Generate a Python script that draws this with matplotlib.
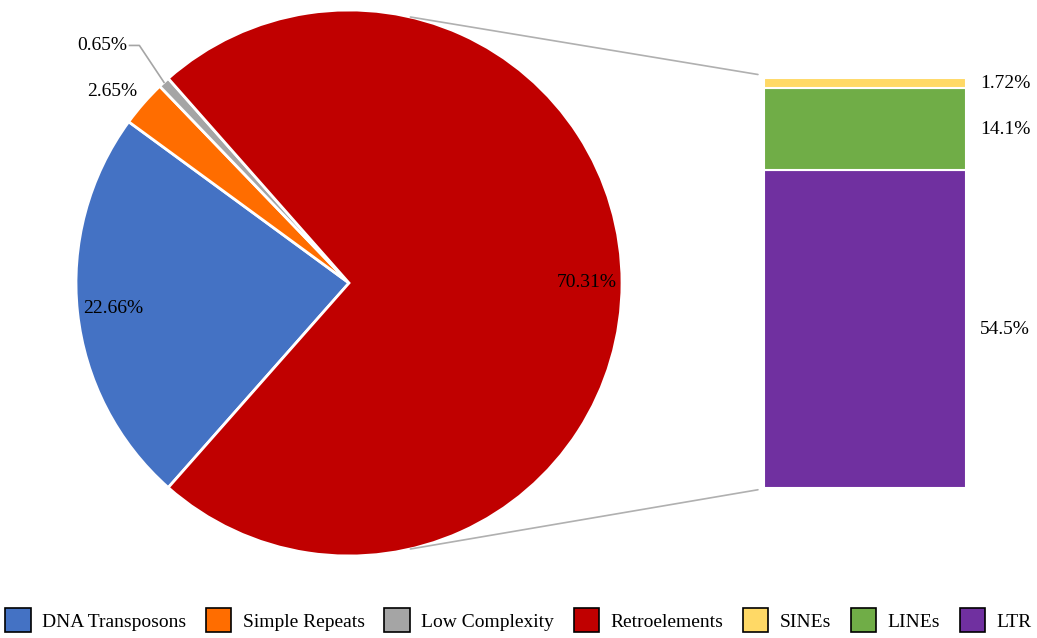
import numpy as np
import matplotlib
matplotlib.use("Agg")
import matplotlib.pyplot as plt
from matplotlib.patches import ConnectionPatch, Patch

plt.rcParams['font.family'] = ['Liberation Serif', 'DejaVu Serif']

# repeat classes shown in the pie
pie_labels = ["DNA Transposons", "Simple Repeats", "Low Complexity", "Retroelements"]
pie_values = [22.66, 2.65, 0.65, 70.31]
pie_colors = ["#4472C4", "#FF6D00", "#A5A5A5", "#C00000"]

# breakdown of retroelements, stacked in the bar (bottom to top)
bar_labels = ["LTR", "LINEs", "SINEs"]
bar_values = [54.5, 14.1, 1.72]
bar_text = ["54.5%", "14.1%", "1.72%"]
bar_colors = ["#7030A0", "#70AD47", "#FFD966"]

W, H = 1037, 638
fig = plt.figure(figsize=(W / 100, H / 100), dpi=100)

# pie axes: centre (349, 283) px, radius 273 px
cx, cy, r = 349, 283, 273
ax1 = fig.add_axes([(cx - r) / W, (H - cy - r) / H, 2 * r / W, 2 * r / H])
ax2 = fig.add_axes([764 / W, (H - 488) / H, 202 / W, 410 / H])

# clockwise, so the retroelement wedge ends up centred on the right
red_frac = pie_values[3] / sum(pie_values)
start = 180 + 180 * (1 - red_frac)
wedges, _ = ax1.pie(pie_values, colors=pie_colors, startangle=start,
                    counterclock=False, radius=1,
                    wedgeprops=dict(edgecolor="white", linewidth=2))
ax1.set_xlim(-1, 1)
ax1.set_ylim(-1, 1)
ax1.set_aspect("equal")
ax1.axis("off")


def mid(w):
    return np.deg2rad((w.theta1 + w.theta2) / 2)


fs = 14
# labels inside the big wedges
for i in (0, 3):
    a = mid(wedges[i])
    ax1.text(0.87 * np.cos(a), 0.87 * np.sin(a), "%.2f%%" % pie_values[i],
             ha="center", va="center", fontsize=fs)

# small wedges: labels outside
a = mid(wedges[1])
ax1.text(1.12 * np.cos(a) - 0.023, 1.12 * np.sin(a) - 0.035, "%.2f%%" % pie_values[1],
         ha="center", va="center", fontsize=fs)
a = mid(wedges[2])
ex, ey = np.cos(a), np.sin(a)
lx, ly = ex - 0.09, ey + 0.135
ax1.plot([ex, lx, lx - 0.036], [ey, ly, ly], color="#A5A5A5", lw=1.2, clip_on=False)
ax1.text(lx - 0.045, ly, "%.2f%%" % pie_values[2], ha="right", va="center", fontsize=fs)

# stacked bar
bottom = 0
for v, c, t in zip(bar_values, bar_colors, bar_text):
    ax2.bar(0.5, v, width=1, bottom=bottom, color=c, edgecolor="white", linewidth=1.5)
    ax2.text(1.07, bottom + v / 2, t, ha="left", va="center", fontsize=fs)
    bottom += v
ax2.set_xlim(0, 1)
ax2.set_ylim(0, bottom)
ax2.axis("off")

# connecting lines between the wedge and the bar
th = np.deg2rad(77)
for sgn, yb in ((1, bottom + 0.6), (-1, -0.3)):
    con = ConnectionPatch(xyA=(np.cos(th), sgn * np.sin(th)), coordsA=ax1.transData,
                          xyB=(-0.03, yb), coordsB=ax2.transData,
                          color="#B0B0B0", lw=1.2)
    fig.add_artist(con)

handles = [Patch(facecolor=c, edgecolor="black", linewidth=1.2)
           for c in pie_colors + bar_colors[::-1]]
fig.legend(handles, pie_labels + bar_labels[::-1], loc="lower center",
           bbox_to_anchor=(0.5, -0.018), ncol=7, frameon=False, fontsize=fs,
           handlelength=1.3, handleheight=1.5, handletextpad=0.6, columnspacing=1.0)

fig.savefig("out.png", dpi=100)
